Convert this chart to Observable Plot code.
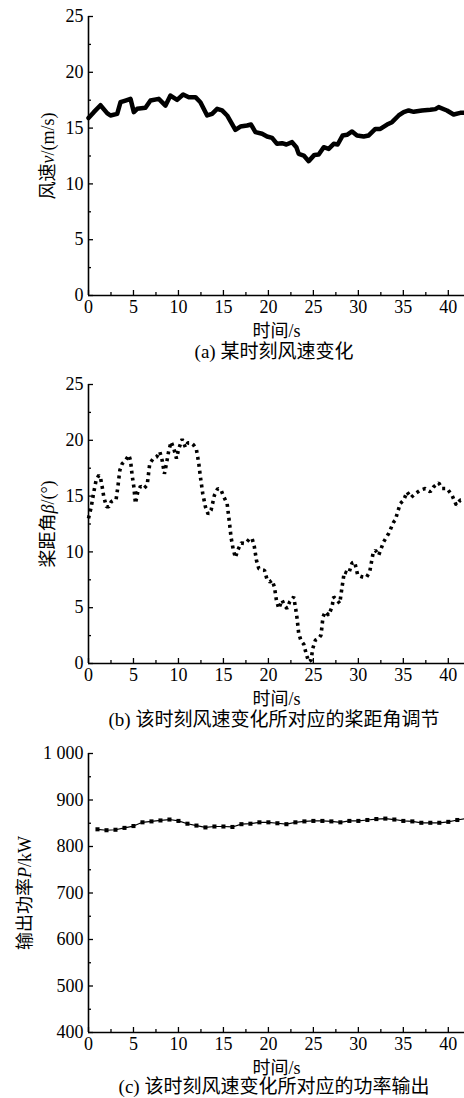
<!DOCTYPE html>
<html>
<head>
<meta charset="utf-8">
<script src="https://cdn.jsdelivr.net/npm/d3@7"></script>
<script src="https://cdn.jsdelivr.net/npm/@observablehq/plot@0.6"></script>
<style>
  html, body { margin: 0; padding: 0; background: #fff; }
  #wrap { position: relative; width: 464px; height: 1098px; overflow: hidden; background: #fff; }
  .panel { position: absolute; left: 0; }
  .cap { position: absolute; left: 0; width: 548px; text-align: center; font-family: "Liberation Serif", "Noto Sans CJK SC", serif; font-size: 19px; line-height: 20px; color: #000; white-space: nowrap; }
</style>
</head>
<body>
<div id="wrap"></div>
<script>
// ---------- data ----------
const xTicks = [0, 5, 10, 15, 20, 25, 30, 35, 40];
const xMinorTicks = [2.5, 7.5, 12.5, 17.5, 22.5, 27.5, 32.5, 37.5];

const yTicksAB = [0, 5, 10, 15, 20, 25];
const yMinorAB = [2.5, 7.5, 12.5, 17.5, 22.5];
const yTicksC = [400, 500, 600, 700, 800, 900, 1000];
const yMinorC = [450, 550, 650, 750, 850, 950];

// (a) wind speed
const timeA = [0, 0.59, 1.33, 2.07, 2.44, 3.19, 3.56, 4.11, 4.67, 5.04, 5.41, 6.33, 6.89, 7.81, 8.56, 9.11, 9.85, 10.52, 11.15, 11.89, 12.44, 13.19, 13.74, 14.30, 14.85, 15.41, 16.33, 16.89, 17.63, 18.07, 18.56, 19.30, 19.85, 20.41, 20.96, 21.52, 22.00, 22.63, 23.11, 23.37, 23.93, 24.48, 25.11, 25.59, 26.15, 26.70, 27.26, 27.70, 28.26, 28.74, 29.30, 29.85, 30.59, 31.15, 31.89, 32.44, 33.19, 33.74, 34.48, 35.04, 35.59, 36.15, 37.07, 38.00, 38.56, 38.93, 39.85, 40.59, 41.33, 41.9];
const speedA = [15.9, 16.43, 17.05, 16.34, 16.13, 16.28, 17.32, 17.47, 17.62, 16.43, 16.73, 16.82, 17.47, 17.62, 17.02, 17.92, 17.53, 18.01, 17.77, 17.77, 17.32, 16.13, 16.28, 16.73, 16.58, 16.13, 14.84, 15.14, 15.23, 15.32, 14.64, 14.49, 14.25, 14.13, 13.59, 13.65, 13.53, 13.74, 13.29, 12.69, 12.54, 12.04, 12.60, 12.63, 13.29, 13.14, 13.59, 13.53, 14.34, 14.40, 14.70, 14.34, 14.25, 14.34, 14.93, 14.93, 15.32, 15.53, 16.13, 16.43, 16.58, 16.46, 16.58, 16.64, 16.70, 16.88, 16.58, 16.22, 16.37, 16.37];

// (b) pitch angle
const timeB = [0, 0.30, 0.59, 0.85, 1.15, 1.33, 1.52, 1.70, 2.0, 2.26, 2.52, 2.81, 3.07, 3.26, 3.48, 3.74, 4.11, 4.48, 4.67, 4.85, 5.04, 5.22, 5.48, 5.78, 6.15, 6.52, 6.81, 7.19, 7.56, 7.93, 8.19, 8.44, 8.67, 8.93, 9.19, 9.48, 9.78, 10.04, 10.41, 10.78, 11.04, 11.41, 11.70, 12.0, 12.26, 12.44, 12.70, 13.0, 13.30, 13.63, 14.0, 14.37, 14.74, 15.04, 15.41, 15.59, 15.70, 15.85, 16.07, 16.33, 16.59, 16.96, 17.44, 17.93, 18.19, 18.44, 18.67, 18.93, 19.30, 19.56, 19.85, 20.15, 20.41, 20.67, 20.89, 21.15, 21.52, 21.78, 22.07, 22.37, 22.81, 23.0, 23.19, 23.37, 23.63, 23.93, 24.19, 24.48, 24.74, 24.93, 25.22, 25.59, 25.85, 26.07, 26.33, 26.70, 27.07, 27.26, 27.63, 27.93, 28.19, 28.44, 28.93, 29.30, 29.59, 29.93, 30.41, 30.89, 31.26, 31.63, 31.89, 32.26, 32.81, 33.37, 33.93, 34.11, 34.37, 34.67, 35.04, 35.41, 35.85, 36.33, 36.89, 37.44, 38.0, 38.37, 38.93, 39.30, 39.85, 40.41, 40.89, 41.33, 41.89];
const pitchB = [13.0, 14.0, 15.38, 16.43, 16.87, 16.66, 15.83, 14.93, 14.04, 14.04, 14.5, 14.64, 14.7, 15.8, 17.3, 17.9, 18.2, 18.67, 18.2, 16.87, 15.83, 14.34, 15.38, 15.89, 15.68, 15.98, 17.92, 18.37, 18.5, 18.97, 18.2, 17.0, 17.92, 19.1, 19.86, 19.26, 18.37, 19.26, 20.1, 19.35, 19.77, 19.77, 19.56, 19.17, 17.92, 16.73, 15.23, 14.04, 13.38, 13.74, 15.08, 15.68, 15.53, 14.93, 14.34, 13.14, 12.4, 11.3, 10.30, 9.49, 10.15, 10.8, 10.75, 11.2, 11.2, 10.45, 9.25, 8.5, 8.36, 8.36, 7.52, 7.31, 7.46, 6.86, 5.67, 4.93, 5.67, 5.2, 4.93, 5.52, 5.97, 5.07, 4.03, 2.69, 2.03, 1.73, 0.9, 0.15, 0.3, 1.34, 2.09, 2.24, 2.54, 4.18, 4.63, 4.33, 5.07, 5.97, 5.67, 5.38, 6.86, 8.21, 8.06, 9.01, 9.1, 7.91, 7.76, 7.7, 8.21, 9.85, 10.15, 9.7, 10.9, 11.65, 12.69, 12.84, 13.59, 14.34, 14.64, 15.38, 14.87, 15.23, 15.53, 15.68, 15.38, 15.83, 16.19, 15.68, 15.68, 15.08, 14.19, 14.64, 14.64];

// (c) output power
const timeC = [1, 2, 3, 4, 5, 6, 7, 8, 9, 10, 11, 12, 13, 14, 15, 16, 17, 18, 19, 20, 21, 22, 23, 24, 25, 26, 27, 28, 29, 30, 31, 32, 33, 34, 35, 36, 37, 38, 39, 40, 41, 42];
const powerC = [837, 835, 836, 840, 844, 852, 854, 856, 858, 855, 849, 845, 841, 843, 843, 842, 848, 849, 852, 852, 850, 848, 852, 854, 855, 855, 854, 852, 855, 855, 857, 859, 860, 858, 855, 854, 851, 851, 851, 853, 857, 860];

// ---------- drawing ----------
const FONT = "'Liberation Serif', 'Noto Sans CJK SC', serif";
const wrap = document.getElementById("wrap");

function panel({top, yDomain, yTicks, yMinor, yFormat, yLabel, yLabelHTML, yLabelOffset, dataMarks, caption, captionTop}) {
  const svg = Plot.plot({
    width: 464,
    height: 345,
    marginTop: 16,
    marginBottom: 50,
    marginLeft: 88,
    marginRight: 0,
    style: {fontFamily: FONT, fontSize: "18px", color: "#000", background: "transparent", overflow: "hidden"},
    x: {domain: [0, 41.8]},
    y: {domain: yDomain},
    marks: [
      Plot.axisX({ticks: xTicks, tickSize: 0, tickPadding: 5, tickFormat: d => String(d), label: "时间/s", labelAnchor: "center", labelOffset: 41, labelArrow: "none", fontSize: 18}),
      Plot.axisX({ticks: xTicks, tickSize: -5, tickFormat: () => "", label: null, strokeWidth: 1.3}),
      Plot.axisX({ticks: xMinorTicks, tickSize: -3, tickFormat: () => "", label: null, strokeWidth: 1.3}),
      Plot.axisY({ticks: yTicks, tickSize: 0, tickPadding: 5, tickFormat: yFormat, label: yLabel, labelAnchor: "center", labelOffset: yLabelOffset, labelArrow: "none", fontSize: 18}),
      Plot.axisY({ticks: yTicks, tickSize: -5, tickFormat: () => "", label: null, strokeWidth: 1.3}),
      Plot.axisY({ticks: yMinor, tickSize: -3, tickFormat: () => "", label: null, strokeWidth: 1.3}),
      Plot.ruleX([0], {stroke: "#000", strokeWidth: 1.6}),
      Plot.ruleY([yDomain[0]], {stroke: "#000", strokeWidth: 1.6}),
      ...dataMarks
    ]
  });
  svg.classList.add("panel");
  svg.style.top = top + "px";
  // italic variable in y label
  svg.querySelectorAll('[aria-label="y-axis label"] text').forEach(t => { t.innerHTML = yLabelHTML; });
  wrap.appendChild(svg);
  const cap = document.createElement("div");
  cap.className = "cap";
  cap.style.top = captionTop + "px";
  cap.textContent = caption;
  wrap.appendChild(cap);
}

panel({
  top: 0,
  yDomain: [0, 25], yTicks: yTicksAB, yMinor: yMinorAB, yFormat: d => String(d),
  yLabel: "风速v/(m/s)", yLabelHTML: '风速<tspan font-style="italic">v</tspan>/(m/s)', yLabelOffset: 47,
  dataMarks: [Plot.line(timeA, {x: timeA, y: speedA, stroke: "#000", strokeWidth: 4.5, strokeLinejoin: "round", strokeLinecap: "round"})],
  caption: "(a) 某时刻风速变化", captionTop: 342
});

panel({
  top: 368,
  yDomain: [0, 25], yTicks: yTicksAB, yMinor: yMinorAB, yFormat: d => String(d),
  yLabel: "桨距角β/(°)", yLabelHTML: '桨距角<tspan font-style="italic">β</tspan>/(°)', yLabelOffset: 47,
  dataMarks: [Plot.line(timeB, {x: timeB, y: pitchB, stroke: "#000", strokeWidth: 3.6, strokeDasharray: "3 4", strokeLinejoin: "miter", strokeLinecap: "butt"})],
  caption: "(b) 该时刻风速变化所对应的桨距角调节", captionTop: 710
});

panel({
  top: 737,
  yDomain: [400, 1000], yTicks: yTicksC, yMinor: yMinorC, yFormat: d => d3.format(",")(d).replace(",", " "),
  yLabel: "输出功率P/kW", yLabelHTML: '输出功率<tspan font-style="italic">P</tspan>/kW', yLabelOffset: 70,
  dataMarks: [
    Plot.line(timeC, {x: timeC, y: powerC, stroke: "#000", strokeWidth: 1.2}),
    Plot.dot(timeC, {x: timeC, y: powerC, symbol: "square", r: 2.3, fill: "#000", stroke: "none"})
  ],
  caption: "(c) 该时刻风速变化所对应的功率输出", captionTop: 1077
});
</script>
</body>
</html>
